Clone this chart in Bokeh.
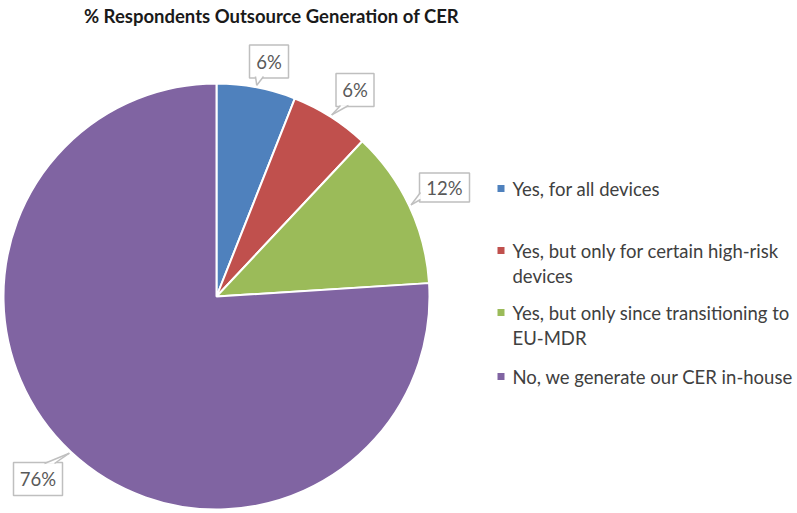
import math
from bokeh.plotting import figure
from bokeh.models import Range1d, ColumnDataSource
from bokeh.core.properties import value
from bokeh.embed import file_html
from bokeh.resources import INLINE

# ---------------- data ----------------
title_text = "% Respondents Outsource Generation of CER"
categories = [
    "Yes, for all devices",
    "Yes, but only for certain high-risk devices",
    "Yes, but only since transitioning to EU-MDR",
    "No, we generate our CER in-house",
]
values = [6, 6, 12, 76]
colors = ["#4F81BD", "#C0504D", "#9BBB59", "#8064A2"]
legend_lines = [
    ["Yes, for all devices"],
    ["Yes, but only for certain high-risk", "devices"],
    ["Yes, but only since transitioning to", "EU-MDR"],
    ["No, we generate our CER in-house"],
]

# ---------------- layout (image pixel coords) ----------------
W, H = 797, 513
CX, CY, R = 216, 296, 213
FONT = "Lato"
box_centers = [(268.5, 61), (354.5, 89.5), (444, 187), (37.5, 478.5)]
box_sizes = [(39, 33), (38, 33), (50, 29), (49, 33)]
tail_bases = [
    [(255, 76), (263, 76)],
    [(340, 105), (348, 105)],
    [(420, 192), (420, 199)],
    [(44, 463), (54, 463)],
]
legend_x_sq, legend_x_txt = 500.5, 512
legend_y = [188, 250, 312, 376]
line_gap = 25

def Y(y):
    return -y

p = figure(width=W, height=H, x_range=Range1d(0, W), y_range=Range1d(-H, 0),
           output_backend="svg", toolbar_location=None, min_border=0)
p.axis.visible = False
p.grid.visible = False
p.outline_line_color = None
p.background_fill_color = "white"
p.border_fill_color = "white"

# ---------------- pie ----------------
total = float(sum(values))
starts, ends, mids = [], [], []
cum = 0.0
for v in values:
    f0 = cum / total
    cum += v
    f1 = cum / total
    starts.append(math.pi / 2 - 2 * math.pi * f0)
    ends.append(math.pi / 2 - 2 * math.pi * f1)
    mids.append(2 * math.pi * (f0 + f1) / 2)

src = ColumnDataSource(dict(x=[CX] * len(values), y=[Y(CY)] * len(values),
                            start=starts, end=ends, color=colors))
p.wedge(x="x", y="y", radius=R, start_angle="start", end_angle="end", direction="clock",
        fill_color="color", line_color="white", line_width=2, source=src)

# ---------------- callout labels ----------------
gray = "#BFBFBF"
for i, v in enumerate(values):
    th = mids[i]
    tx = CX + (R + 2) * math.sin(th)
    ty = CY - (R + 2) * math.cos(th)
    bx, by = box_centers[i]
    bw, bh = box_sizes[i]
    p.rect(x=[bx], y=[Y(by)], width=bw, height=bh, fill_color="white",
           line_color=gray, line_width=1.5)
    (x1, y1), (x2, y2) = tail_bases[i]
    p.patch(x=[x1, tx, x2], y=[Y(y1), Y(ty), Y(y2)], fill_color="white", line_color=None)
    p.multi_line(xs=[[x1, tx], [x2, tx]], ys=[[Y(y1), Y(ty)], [Y(y2), Y(ty)]],
                 line_color=gray, line_width=1.5)
    p.text(x=[bx], y=[Y(by)], text=[f"{v}%"], text_align="center", text_baseline="middle",
           text_font=value(FONT), text_font_size="18.5px", text_color="#595959")

# ---------------- legend ----------------
p.scatter(x=[legend_x_sq] * len(colors), y=[Y(y) for y in legend_y], marker="square",
          size=7, fill_color=colors, line_color=None)
lx, ly, lt = [], [], []
for i, lines in enumerate(legend_lines):
    for j, t in enumerate(lines):
        lx.append(legend_x_txt)
        ly.append(Y(legend_y[i] + j * line_gap))
        lt.append(t)
p.text(x=lx, y=ly, text=lt, text_align="left", text_baseline="middle",
       text_font=value(FONT), text_font_size="18.5px", text_color="#404040")

# ---------------- title ----------------
p.text(x=[271], y=[Y(15)], text=[title_text], text_align="center", text_baseline="middle",
       text_font=value(FONT), text_font_size="18.5px", text_font_style="bold", text_color="#1A1A1A")

open("out.html", "w").write(file_html(p, INLINE))
